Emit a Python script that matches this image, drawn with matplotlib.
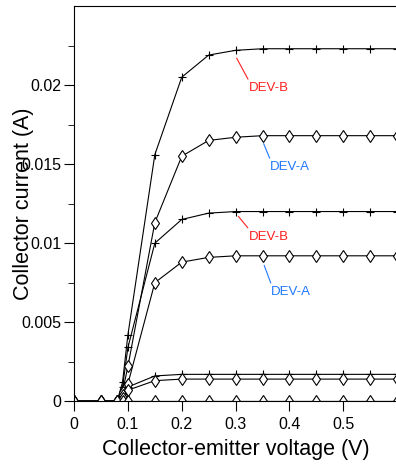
import matplotlib.pyplot as plt
import numpy as np

plt.rcParams['font.family'] = ['Liberation Sans', 'DejaVu Sans']

vce = [0, 0.05, 0.08, 0.09, 0.1, 0.15, 0.2, 0.25, 0.3, 0.35, 0.4, 0.45, 0.5, 0.55, 0.6]

# DEV-B curves (plus markers), highest base current first
dev_b = [
    [0, 0, 0, 0.0012, 0.0042, 0.0156, 0.0205, 0.0219, 0.0222, 0.0223, 0.0223, 0.0223, 0.0223, 0.0223, 0.0223],
    [0, 0, 0, 0.0009, 0.0034, 0.0100, 0.0115, 0.0119, 0.0120, 0.0120, 0.0120, 0.0120, 0.0120, 0.0120, 0.0120],
    [0, 0, 0, 0.0003, 0.0009, 0.0016, 0.0017, 0.0017, 0.0017, 0.0017, 0.0017, 0.0017, 0.0017, 0.0017, 0.0017],
    [0, 0, 0, 0, 0, 0, 0, 0, 0, 0, 0, 0, 0, 0, 0],
]
# DEV-A curves (diamond markers)
dev_a = [
    [0, 0, 0, 0.0006, 0.0022, 0.0113, 0.0155, 0.0165, 0.0167, 0.0168, 0.0168, 0.0168, 0.0168, 0.0168, 0.0168],
    [0, 0, 0, 0.0004, 0.0011, 0.0075, 0.0088, 0.0091, 0.0092, 0.0092, 0.0092, 0.0092, 0.0092, 0.0092, 0.0092],
    [0, 0, 0, 0.0002, 0.0007, 0.0013, 0.0014, 0.0014, 0.0014, 0.0014, 0.0014, 0.0014, 0.0014, 0.0014, 0.0014],
    [0, 0, 0, 0, 0, 0, 0, 0, 0, 0, 0, 0, 0, 0, 0],
]

# labels: (text, start of leader line, text top-left, colour)
labels = [
    ("DEV-B", (0.302, 0.0217), (0.324, 0.0202), '#ff2020'),
    ("DEV-A", (0.352, 0.0163), (0.364, 0.0152), '#1f78ff'),
    ("DEV-B", (0.305, 0.0117), (0.324, 0.0108), '#ff2020'),
    ("DEV-A", (0.353, 0.0086), (0.366, 0.0073), '#1f78ff'),
]

fig = plt.figure(figsize=(3.96, 4.66), dpi=100)
ax = fig.add_axes([0.187, 0.139, 0.816, 0.848])

for ib in dev_b:
    ax.plot(vce, ib, color='black', lw=0.8, marker='+', ms=6, mew=0.8)
for ia in dev_a:
    ax.plot(vce, ia, color='black', lw=0.8, marker='d', ms=6, mew=0.8,
            mfc='white', mec='black')

for text, xy, xytext, col in labels:
    ax.annotate(text, xy=xy, xytext=xytext, color=col, fontsize=9.5,
                ha='left', va='top',
                arrowprops=dict(arrowstyle='-', color=col, lw=0.8,
                                shrinkA=0, shrinkB=0, relpos=(0.0, 1.15)))

ax.set_xlim(0, 0.6)
ax.set_ylim(0, 0.025)
ax.set_xticks([0, 0.1, 0.2, 0.3, 0.4, 0.5])
ax.set_xticklabels(['0', '0.1', '0.2', '0.3', '0.4', '0.5'])
ax.set_yticks([0, 0.005, 0.01, 0.015, 0.02])
ax.set_yticklabels(['0', '0.005', '0.01', '0.015', '0.02'])
ax.set_yticks(np.arange(0, 0.025, 0.0025), minor=True)
ax.tick_params(axis='both', which='major', direction='out', length=7,
               labelsize=11.5, pad=2)
ax.tick_params(axis='x', which='major', pad=4)
ax.tick_params(axis='y', which='minor', direction='out', length=4)
ax.spines['right'].set_visible(False)

ax.set_xlabel("Collector-emitter voltage (V)", fontsize=15.5)
ax.set_ylabel("Collector current (A)", fontsize=15.5)
ax.yaxis.set_label_coords(-0.125, 0.5)
ax.xaxis.set_label_coords(0.5, -0.095)

fig.savefig('out.png', dpi=100)
